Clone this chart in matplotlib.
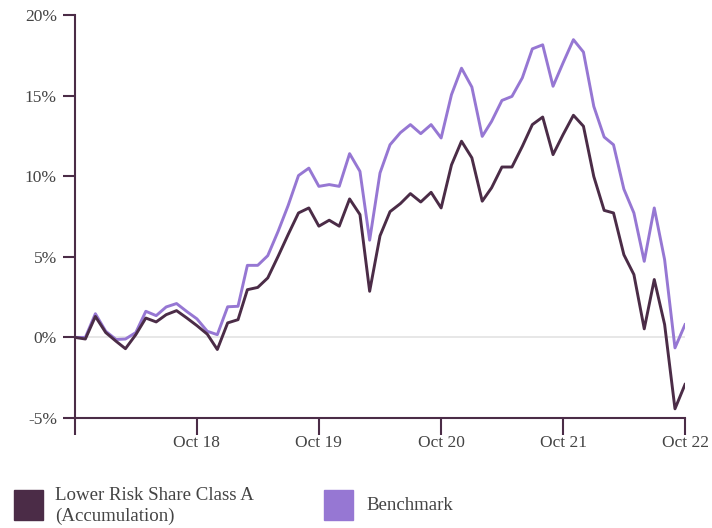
import numpy as np
import pandas as pd
import matplotlib
matplotlib.use("Agg")
import matplotlib.pyplot as plt
import matplotlib.dates as mdates
from matplotlib.patches import Rectangle

# Monthly cumulative performance, Oct 2017 - Oct 2022 (%)
months = pd.date_range(start="2017-10-01", end="2022-10-01", freq="MS")

fund = [0.0, -0.1, 1.3, 0.3, -0.24, -0.7, 0.17, 1.2, 0.96, 1.41,
        1.66, 1.2, 0.73, 0.2, -0.75, 0.9, 1.1, 2.96, 3.1, 3.69,
        5.03, 6.38, 7.72, 8.03, 6.9, 7.27, 6.9, 8.59, 7.62, 2.86,
        6.3, 7.8, 8.3, 8.92, 8.4, 9.0, 8.03, 10.7, 12.17, 11.14,
        8.45, 9.28, 10.57, 10.57, 11.85, 13.2, 13.67, 11.34, 12.58, 13.78,
        13.1, 9.98, 7.88, 7.72, 5.13, 3.9, 0.53, 3.59, 0.8, -4.43,
        -2.92]

bench = [0.0, 0.0, 1.47, 0.38, -0.13, -0.1, 0.3, 1.62, 1.35, 1.89,
         2.1, 1.6, 1.15, 0.38, 0.17, 1.9, 1.93, 4.47, 4.47, 5.07,
         6.58, 8.18, 10.04, 10.5, 9.37, 9.48, 9.37, 11.4, 10.3, 6.03,
         10.2, 11.95, 12.7, 13.2, 12.64, 13.2, 12.37, 15.06, 16.7, 15.53,
         12.47, 13.4, 14.7, 14.95, 16.1, 17.9, 18.15, 15.58, 17.03, 18.47,
         17.7, 14.33, 12.43, 11.95, 9.2, 7.72, 4.72, 8.03, 4.82, -0.65,
         0.79]

yticks = [-5, 0, 5, 10, 15, 20]
xtick_dates = pd.to_datetime(["2018-10-01", "2019-10-01", "2020-10-01", "2021-10-01", "2022-10-01"])
xtick_labels = ["Oct 18", "Oct 19", "Oct 20", "Oct 21", "Oct 22"]

fund_color = "#4b2c47"
bench_color = "#9677d3"
axis_color = "#4b2c47"
text_color = "#444444"

plt.rcParams['font.family'] = ['Liberation Serif', 'DejaVu Serif']

fig = plt.figure(figsize=(7.12, 5.28), dpi=100)
ax = fig.add_axes([75/712, 1 - 418/528, 610/712, 403/528])

ax.axhline(0, color="#e3e3e3", lw=1.2, zorder=1)
ax.plot(months, bench, color=bench_color, lw=2.1, zorder=3)
ax.plot(months, fund, color=fund_color, lw=2.1, zorder=4)

ax.set_xlim(months[0], months[-1])
ax.set_ylim(-5, 20)

ax.set_yticks(yticks)
ax.set_yticklabels([f"{v}%" for v in yticks])
ax.set_xticks([months[0]] + list(xtick_dates))
ax.set_xticklabels([""] + xtick_labels)

for s in ["top", "right"]:
    ax.spines[s].set_visible(False)
for s in ["left", "bottom"]:
    ax.spines[s].set_color(axis_color)
    ax.spines[s].set_linewidth(1.5)

ax.tick_params(axis="y", length=9, width=1.5, color=axis_color, labelsize=12.5,
               labelcolor=text_color, pad=4)
ax.tick_params(axis="x", length=12, width=1.5, color=axis_color, labelsize=12.5,
               labelcolor=text_color, pad=0)

# legend
fig.patches.append(Rectangle((14/712, 1 - 520/528), 29/712, 30/528,
                             transform=fig.transFigure, color=fund_color))
fig.text(55/712, 1 - 495/528, "Lower Risk Share Class A", fontsize=13.6,
         color=text_color, va="center")
fig.text(55/712, 1 - 516/528, "(Accumulation)", fontsize=13.6,
         color=text_color, va="center")
fig.patches.append(Rectangle((324/712, 1 - 520/528), 29/712, 30/528,
                             transform=fig.transFigure, color=bench_color))
fig.text(366/712, 1 - 506/528, "Benchmark", fontsize=13.6,
         color=text_color, va="center")

fig.savefig("out.png", dpi=100)
